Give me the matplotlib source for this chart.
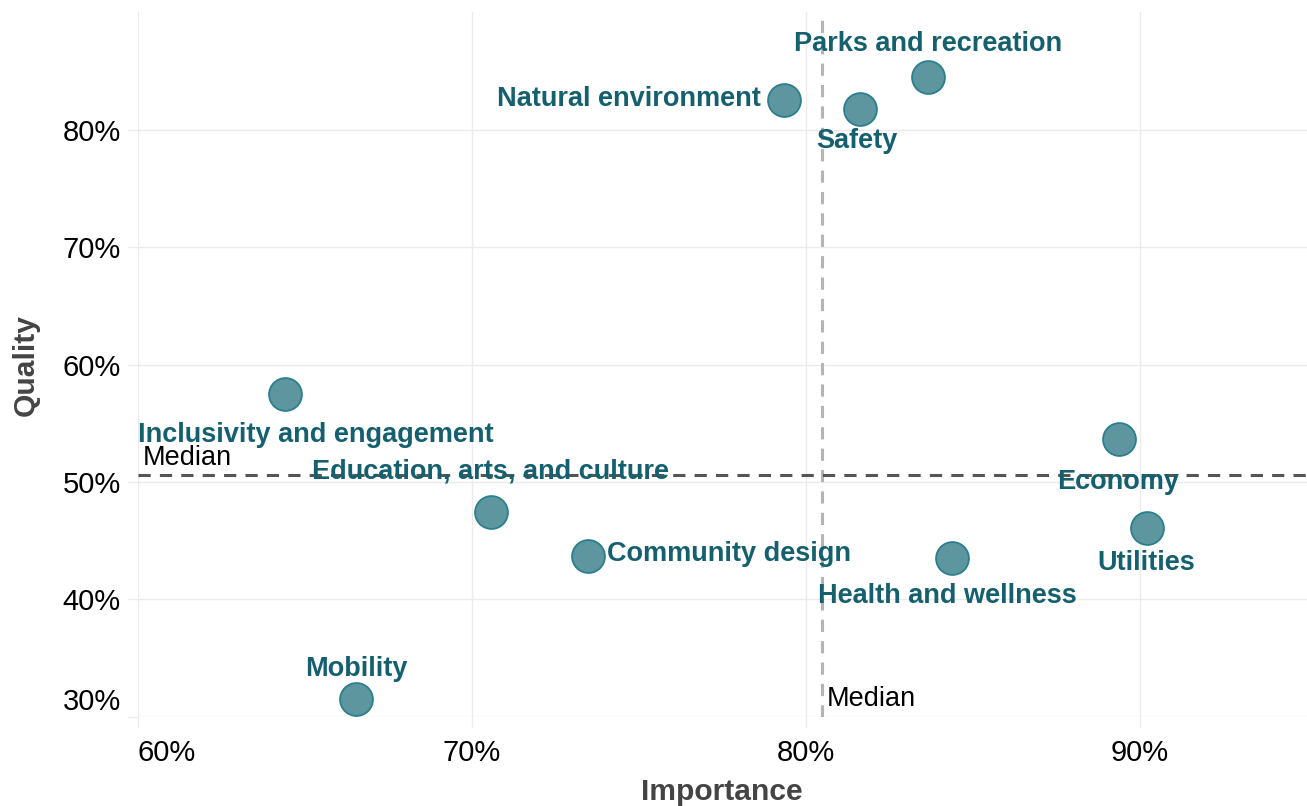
import matplotlib
matplotlib.use("Agg")
import matplotlib.pyplot as plt
import numpy as np
from matplotlib.ticker import FixedLocator
import matplotlib.transforms as mtransforms

plt.rcParams['font.family'] = ['Liberation Sans', 'DejaVu Sans']

# ---- data ----
categories = ["Parks and recreation", "Natural environment", "Safety",
              "Inclusivity and engagement", "Education, arts, and culture",
              "Community design", "Health and wellness", "Economy",
              "Utilities", "Mobility"]
importance = [83.67, 79.35, 81.61, 64.41, 70.58, 73.48, 84.37, 89.37, 90.21, 66.53]
quality = [84.51, 82.53, 81.74, 57.49, 47.46, 43.71, 43.49, 53.65, 46.05, 31.48]
x_ticks = [60, 70, 80, 90]
x_tick_labels = ["60%", "70%", "80%", "90%"]
y_ticks = [30, 40, 50, 60, 70, 80]
y_tick_labels = ["30%", "40%", "50%", "60%", "70%", "80%"]

# label placement (pixel offsets from point, alignment)
label_offsets = {
    "Parks and recreation": (0, 33, "center"),
    "Natural environment": (-23, 1, "right"),
    "Safety": (-3, -32, "center"),
    "Inclusivity and engagement": (31, -41, "center"),
    "Education, arts, and culture": (-1, 40, "center"),
    "Community design": (19, 2, "left"),
    "Health and wellness": (-4, -38, "center"),
    "Economy": (-1, -43, "center"),
    "Utilities": (-1, -35, "center"),
    "Mobility": (1, 30, "center"),
}

med_x = float(np.median(importance))
med_y = float(np.median(quality))

fig = plt.figure(figsize=(13.07, 8.06), dpi=100)
ax = fig.add_axes([137.5 / 1307, 1 - 716.7 / 806, 1 - 137.5 / 1307, (716.7 - 12.3) / 806])
ax.set_xlim(60, 95)
ax.set_ylim(30, 90)

grid_c = "#ebebeb"
ax.xaxis.set_major_locator(FixedLocator(x_ticks))
ax.yaxis.set_major_locator(FixedLocator(y_ticks))
ax.set_xticklabels(x_tick_labels)
ax.set_yticklabels(y_tick_labels)
ax.grid(True, color=grid_c, linewidth=1.0)
ax.set_axisbelow(True)
for s in ax.spines.values():
    s.set_visible(False)
ax.tick_params(axis='both', length=7, width=1, color=grid_c, labelsize=21, labelcolor="black")
ax.tick_params(axis='x', pad=9)
ax.tick_params(axis='y', pad=5)

# edge tick label adjustments
xl = ax.get_xticklabels()
xl[0].set_horizontalalignment('left')
yl = ax.get_yticklabels()
yl[0].set_transform(yl[0].get_transform() + mtransforms.ScaledTranslation(0, 18 / 100, fig.dpi_scale_trans))

# median lines
ax.axvline(med_x, color="#b4b4b4", linestyle=(0, (4, 3)), linewidth=2.2, zorder=1)
ax.axhline(med_y, color="#555555", linestyle=(0, (4, 3)), linewidth=2.2, zorder=1)
ax.annotate("Median", xy=(60, med_y), xytext=(5, 17), textcoords="offset pixels",
            ha="left", va="center", fontsize=19.5, color="black")
ax.annotate("Median", xy=(med_x, 30), xytext=(5, 18), textcoords="offset pixels",
            ha="left", va="center", fontsize=19.5, color="black")

ax.scatter(importance, quality, s=560, color="#5d969e", edgecolors="#2a7f8f",
           linewidths=1.3, zorder=3)

for name, xv, yv in zip(categories, importance, quality):
    dx, dy, ha = label_offsets[name]
    ax.annotate(name, xy=(xv, yv), xytext=(dx, dy), textcoords="offset pixels",
                ha=ha, va="center", fontsize=19.5, fontweight="bold", color="#15606e", zorder=4)

fig.text(722 / 1307, 1 - 792 / 806, "Importance", ha="center", va="center",
         fontsize=21.6, fontweight="bold", color="#444444")
fig.text(26 / 1307, 1 - 365 / 806, "Quality", ha="center", va="center", rotation=90,
         fontsize=21.6, fontweight="bold", color="#444444")

fig.savefig("out.png", dpi=100)
